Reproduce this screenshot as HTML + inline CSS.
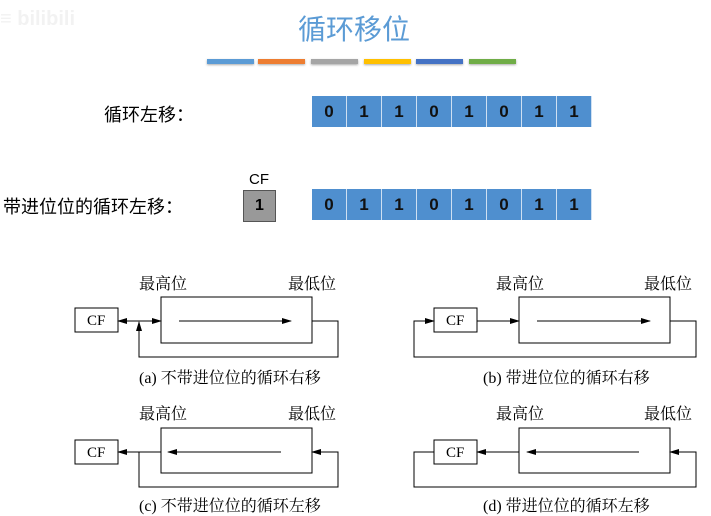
<!DOCTYPE html>
<html><head><meta charset="utf-8"><style>
body{margin:0;width:711px;height:516px;background:#fff;overflow:hidden;position:relative;font-family:"Liberation Sans","Noto Sans CJK SC",sans-serif}
.a{position:absolute}
.cell{position:absolute;width:34px;height:31px;background:#4f8fcf;border-right:1px solid #cfe0f2;color:#111;font-weight:bold;font-size:17px;text-align:center;line-height:31px}
.bar{position:absolute;top:59px;height:5px;width:47px;box-shadow:0 1px 2px #aaa}
</style></head><body>
<div class="a" style="left:0;top:8px;font-size:20px;color:#f2f2f2;font-weight:bold">≡ bilibili</div>
<div class="a" style="left:298px;top:8px;font-size:28px;color:#5b9bd5">循环移位</div>
<div class="bar" style="left:207px;background:#5b9bd5"></div>
<div class="bar" style="left:258px;background:#ed7d31"></div>
<div class="bar" style="left:311px;background:#a5a5a5"></div>
<div class="bar" style="left:364px;background:#ffc000"></div>
<div class="bar" style="left:416px;background:#4472c4"></div>
<div class="bar" style="left:469px;background:#70ad47"></div>
<div class="a" style="left:104px;top:101px;font-size:18px">循环左移：</div>
<div class="a" style="left:3px;top:193px;font-size:18px">带进位位的循环左移：</div>
<div class="a" style="left:249px;top:171px;font-size:15px">CF</div>
<div class="a" style="left:243px;top:190px;width:31px;height:30px;background:#999;border:1px solid #555;text-align:center;line-height:30px;font-weight:bold;font-size:16px">1</div>
<script>
var v="01101011";
for(var r=0;r<2;r++)for(var i=0;i<8;i++){var d=document.createElement('div');d.className='cell';d.style.left=(312+i*35)+'px';d.style.top=(r?189:96)+'px';d.textContent=v[i];document.body.appendChild(d);}
</script>
<svg class="a" style="left:0;top:0" width="711" height="516" font-family="Liberation Serif,Noto Serif CJK SC,serif" font-size="15">
<defs><marker id="m" markerWidth="10" markerHeight="6" refX="9" refY="3" orient="auto" markerUnits="userSpaceOnUse"><path d="M0,0L10,3L0,6Z" fill="#000"/></marker></defs>
<g stroke="#000" fill="none" stroke-width="1">
<rect x="75" y="308" width="43" height="24"/><rect x="161" y="297" width="151" height="46"/>
<line x1="179" y1="321" x2="291" y2="321" marker-end="url(#m)"/>
<polyline points="312,321 338,321 338,357 139,357 139,322" marker-end="url(#m)"/>
<line x1="139" y1="321" x2="161" y2="321" marker-end="url(#m)"/>
<line x1="139" y1="321" x2="118" y2="321" marker-end="url(#m)"/>
<rect x="434" y="308" width="43" height="24"/><rect x="519" y="297" width="151" height="46"/>
<line x1="537" y1="321" x2="650" y2="321" marker-end="url(#m)"/>
<line x1="477" y1="321" x2="519" y2="321" marker-end="url(#m)"/>
<polyline points="670,321 696,321 696,357 414,357 414,321 434,321" marker-end="url(#m)"/>
<rect x="75" y="440" width="43" height="24"/><rect x="161" y="428" width="151" height="45"/>
<line x1="281" y1="452" x2="168" y2="452" marker-end="url(#m)"/>
<line x1="161" y1="452" x2="118" y2="452" marker-end="url(#m)"/>
<polyline points="139,452 139,487 338,487 338,452 312,452" marker-end="url(#m)"/>
<rect x="434" y="440" width="43" height="24"/><rect x="519" y="428" width="151" height="45"/>
<line x1="639" y1="452" x2="527" y2="452" marker-end="url(#m)"/>
<line x1="519" y1="452" x2="477" y2="452" marker-end="url(#m)"/>
<polyline points="434,452 414,452 414,487 696,487 696,452 670,452" marker-end="url(#m)"/>
</g>
<g fill="#000" stroke="none">
<text x="87" y="325">CF</text><text x="446" y="325">CF</text><text x="87" y="457">CF</text><text x="446" y="457">CF</text>
<g font-size="16">
<text x="139" y="289">最高位</text><text x="288" y="289">最低位</text>
<text x="496" y="289">最高位</text><text x="644" y="289">最低位</text>
<text x="139" y="419">最高位</text><text x="288" y="419">最低位</text>
<text x="496" y="419">最高位</text><text x="644" y="419">最低位</text>
<text x="139" y="383">(a) 不带进位位的循环右移</text>
<text x="483" y="383">(b) 带进位位的循环右移</text>
<text x="139" y="511">(c) 不带进位位的循环左移</text>
<text x="483" y="511">(d) 带进位位的循环左移</text>
</g>
</g>
</svg>
</body></html>
